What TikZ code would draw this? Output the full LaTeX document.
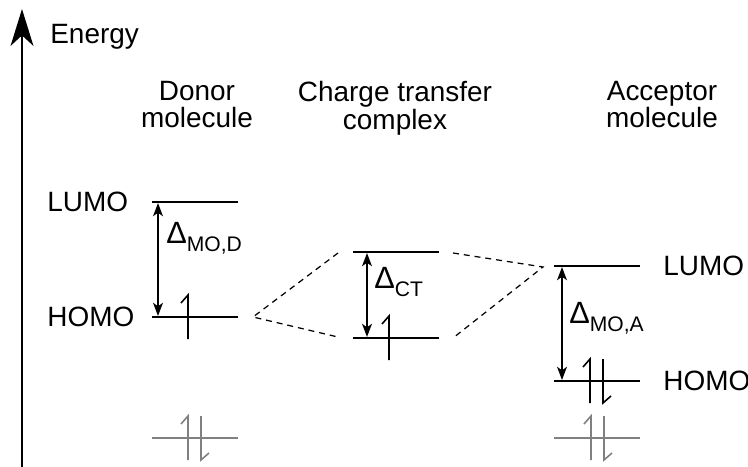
\documentclass[tikz,border=0pt]{standalone}
\usepackage{fontspec}
\setmainfont{Liberation Sans}
\usetikzlibrary{arrows.meta,calc}

\newcommand\gapsub[1]{\raisebox{-4.8pt}{\fontsize{12}{12}\selectfont #1}}
\newcommand\gapsym{{\fontsize{17.5}{17.5}\selectfont Δ}}

\begin{document}
\begin{tikzpicture}[x=0.02cm,y=-0.02cm,
  mo/.style={line width=1.1pt},
  gaparrow/.style={line width=1.05pt,
    {Stealth[length=7.5pt,width=5.6pt,inset=2pt]}-{Stealth[length=7.5pt,width=5.6pt,inset=2pt]}},
  electron/.style={line width=0.9pt},
  link/.style={line width=0.7pt,dash pattern=on 3.4pt off 2.8pt},
  lbl/.style={inner sep=0pt,font=\fontsize{15.9}{15.6}\selectfont}]
\definecolor{coregray}{HTML}{808080}

\useasboundingbox (0,0) rectangle (748,467);

% energy axis
\coordinate (axis-foot) at (22,467);
\coordinate (axis-top) at (22,9);
\draw[line width=1.1pt,-{Stealth[length=21pt,width=13pt,inset=6pt]}] (axis-foot) -- (axis-top);
\node[lbl,anchor=base west] (energy) at (50,43) {Energy};

% column headings
\node[lbl,align=center,anchor=north] (D-head) at (197,81) {Donor\\molecule};
\node[lbl,align=center,anchor=north] (CT-head) at (395,81) {Charge transfer\\complex};
\node[lbl,align=center,anchor=north] (A-head) at (662,81) {Acceptor\\molecule};

% orbital levels (west and east ends)
\foreach \name/\xa/\y in {D-lumo/152/202,D-homo/152/317,D-core/152/438,
                          CT-up/353/252,CT-lo/353/338,
                          A-lumo/554/266,A-homo/554/381,A-core/554/438} {
  \coordinate (\name-w) at (\xa,\y);
  \coordinate (\name-e) at (\xa+86,\y);
}
\foreach \name in {D-lumo,D-homo,CT-up,CT-lo,A-lumo,A-homo}
  \draw[mo] (\name-w) -- (\name-e);
\foreach \name in {D-core,A-core}
  \draw[mo,coregray] (\name-w) -- (\name-e);

% level names
\node[lbl,anchor=west] (D-lumo-lbl) at (47,202) {LUMO};
\node[lbl,anchor=west] (D-homo-lbl) at (47,317) {HOMO};
\node[lbl,anchor=west] (A-lumo-lbl) at (663,266) {LUMO};
\node[lbl,anchor=west] (A-homo-lbl) at (663,381) {HOMO};

% gaps
\draw[gaparrow] ($(D-lumo-w)+(6,1)$) -- ($(D-homo-w)+(6,-1)$);
\draw[gaparrow] ($(CT-up-w)+(14,1)$) -- ($(CT-lo-w)+(14,-1)$);
\draw[gaparrow] ($(A-lumo-w)+(8,1)$) -- ($(A-homo-w)+(8,-1)$);
\node[lbl,anchor=base west] (D-gap-lbl) at (166,243) {\gapsym\gapsub{MO,D}};
\node[lbl,anchor=base west] (CT-gap-lbl) at (374,288) {\gapsym\gapsub{CT}};
\node[lbl,anchor=base west] (A-gap-lbl) at (569,323) {\gapsym\gapsub{MO,A}};

% mixing of donor HOMO and acceptor LUMO
\coordinate (ct-left) at ($(D-homo-e)+(15,0)$);
\coordinate (ct-right) at ($(A-lumo-w)+(-11,1)$);
\draw[link] ($(CT-up-w)+(-15,1)$) -- (ct-left) -- ($(CT-lo-w)+(-15,-1)$);
\draw[link] ($(CT-up-e)+(14,1)$) -- (ct-right) -- ($(CT-lo-e)+(14,0)$);

% electrons: spin up, then spin down
\foreach \x/\y/\col in {188/317/black,389/338/black,590/381/black,
                        188/438/coregray,591/438/coregray}
  \draw[electron,\col] (\x,\y+22) -- (\x,\y-22) -- (\x-7,\y-14);
\foreach \x/\y/\col in {603/381/black,201/438/coregray,604/438/coregray}
  \draw[electron,\col] (\x,\y-22) -- (\x,\y+22) -- (\x+8,\y+15);
\end{tikzpicture}
\end{document}
